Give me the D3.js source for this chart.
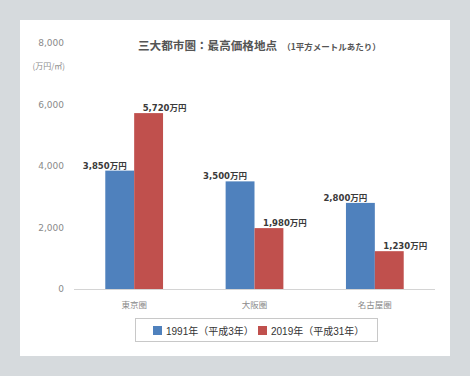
<!DOCTYPE html>
<html>
<head>
<meta charset="utf-8">
<script src="https://d3js.org/d3.v7.min.js"></script>
<style>
  body { margin: 0; background: #d6dadd; }
  svg { display: block; }
  .num { font-family: "DejaVu Sans", "Noto Sans CJK JP", sans-serif; }
  .tick text { fill: #8a8a8a; font-size: 9px; }
  .lbl { fill: #3a3a3a; font-size: 8.5px; font-weight: bold; }
</style>
</head>
<body>
<svg id="chart" width="470" height="376"></svg>
<script>
// 三大都市圏 最高価格地点 (万円/㎡)
const categories = ["東京圏", "大阪圏", "名古屋圏"];
const seriesNames = ["1991年（平成3年）", "2019年（平成31年）"];
const values1991 = [3850, 3500, 2800];
const values2019 = [5720, 1980, 1230];
const yTicks = [0, 2000, 4000, 6000, 8000];
const colors = ["#4f81bd", "#c0504d"];

const svg = d3.select("#chart");

// white panel
svg.append("rect").attr("x", 20).attr("y", 20).attr("width", 430).attr("height", 336).attr("fill", "#fff");

const y = d3.scaleLinear().domain([0, 8000]).range([289, 43]);
const x0 = d3.scaleBand().domain(categories).range([74, 435]).paddingInner(0.52).paddingOuter(0.26);
const x1 = d3.scaleBand().domain([0, 1]).range([0, x0.bandwidth()]);

// y axis labels only
const yAxis = svg.append("g").attr("class", "num")
  .attr("transform", "translate(64,0)")
  .call(d3.axisLeft(y).tickValues(yTicks).tickFormat(d3.format(",")).tickSize(0).tickPadding(0));
yAxis.select(".domain").remove();
yAxis.selectAll("text").attr("font-family", null).attr("font-size", null);

svg.append("text").attr("x", 65).attr("y", 69).attr("text-anchor", "end")
  .attr("font-family", "Noto Sans CJK JP, sans-serif").attr("font-size", 8).attr("fill", "#8a8a8a")
  .text("(万円/㎡)");

// baseline
svg.append("line").attr("x1", 74).attr("x2", 435).attr("y1", y(0) + 0.5).attr("y2", y(0) + 0.5)
  .attr("stroke", "#d4d4d4");

// bars
const rows = categories.map((c, i) => ({ cat: c, vals: [values1991[i], values2019[i]] }));
const groups = svg.selectAll("g.grp").data(rows).enter().append("g")
  .attr("class", "grp")
  .attr("transform", d => "translate(" + x0(d.cat) + ",0)");

groups.selectAll("rect").data(d => d.vals.map((v, s) => ({ v, s }))).enter().append("rect")
  .attr("x", d => x1(d.s))
  .attr("y", d => y(d.v))
  .attr("width", x1.bandwidth())
  .attr("height", d => y(0) - y(d.v))
  .attr("fill", d => colors[d.s]);

groups.selectAll("text.lbl").data(d => d.vals.map((v, s) => ({ v, s }))).enter().append("text")
  .attr("class", "lbl num")
  .attr("x", d => x1(d.s) + x1.bandwidth() / 2 + (d.s === 0 ? -15 : 16))
  .attr("y", d => y(d.v) - 2)
  .attr("text-anchor", "middle")
  .text(d => d3.format(",")(d.v) + "万円");

// category labels
svg.selectAll("text.cat").data(categories).enter().append("text")
  .attr("class", "cat")
  .attr("x", d => x0(d) + x0.bandwidth() / 2)
  .attr("y", 308)
  .attr("text-anchor", "middle")
  .attr("font-family", "Noto Sans CJK JP, sans-serif")
  .attr("font-size", 8.5)
  .attr("fill", "#8a8a8a")
  .text(d => d);

// title
const title = svg.append("text").attr("x", 138).attr("y", 50)
  .attr("font-family", "Noto Sans CJK JP, sans-serif").attr("font-weight", "bold").attr("fill", "#555");
title.append("tspan").attr("font-size", 11.6).text("三大都市圏：最高価格地点");
title.append("tspan").attr("font-size", 8.5).attr("dx", 5).text("（1平方メートルあたり）");

// legend
svg.append("rect").attr("x", 135.5).attr("y", 318.5).attr("width", 242).attr("height", 23)
  .attr("fill", "#fff").attr("stroke", "#c8c8c8");
const legX = [153, 258];
seriesNames.forEach((n, i) => {
  svg.append("rect").attr("x", legX[i]).attr("y", 326).attr("width", 9).attr("height", 9).attr("fill", colors[i]);
  svg.append("text").attr("x", legX[i] + 13).attr("y", 334.5)
    .attr("font-family", "Liberation Sans, Noto Sans CJK JP, sans-serif")
    .attr("font-size", 10).attr("fill", "#333").text(n);
});
</script>
</body>
</html>
